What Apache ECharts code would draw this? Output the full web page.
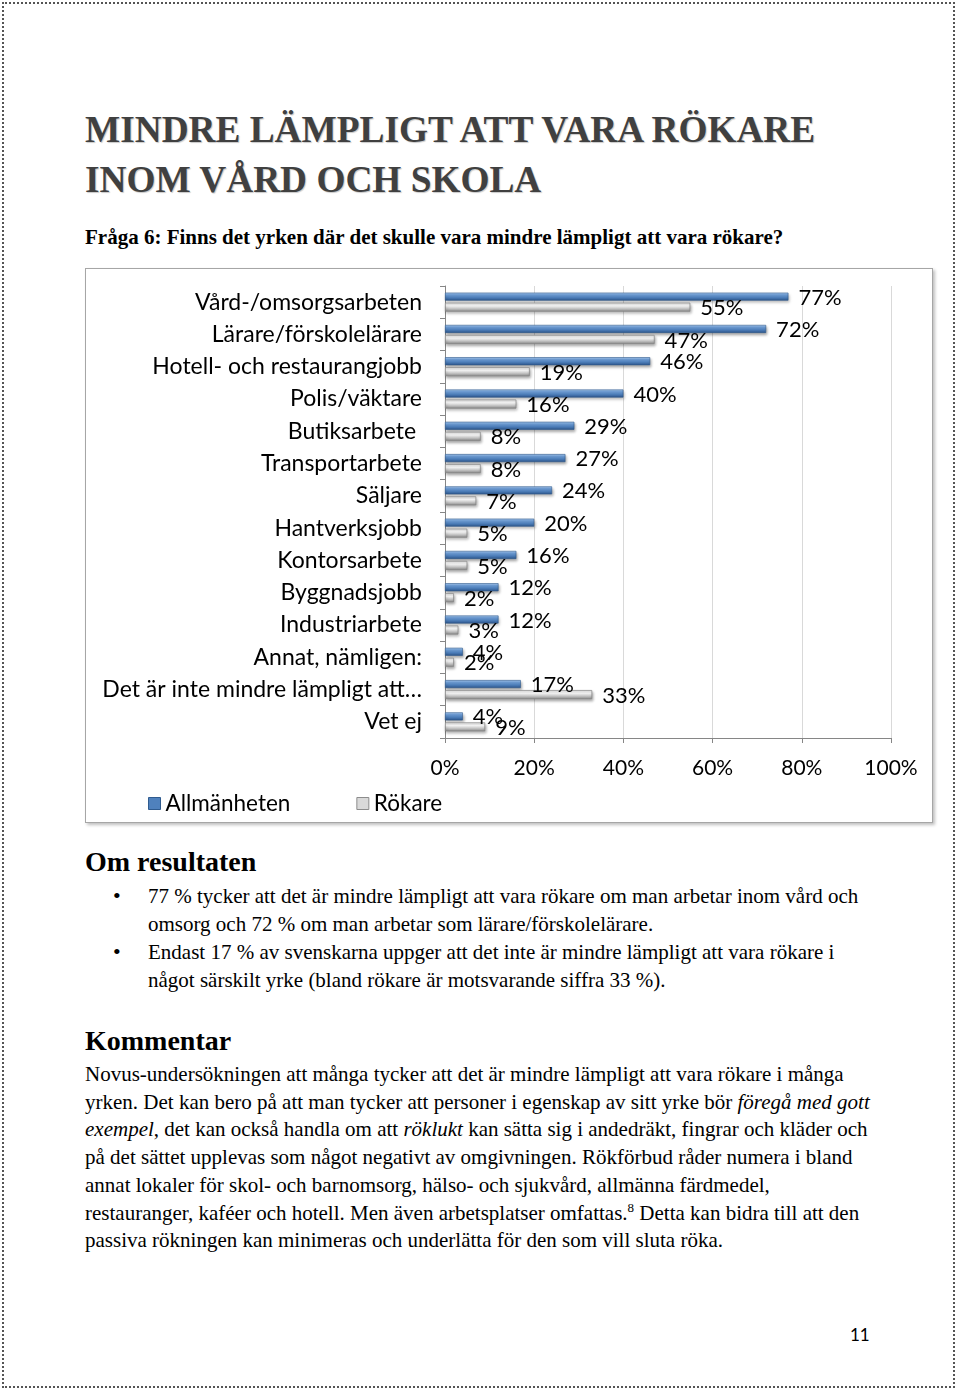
<!DOCTYPE html>
<html>
<head>
<meta charset="utf-8">
<script src="https://cdn.jsdelivr.net/npm/echarts@6/dist/echarts.min.js"></script>
<style>
  html, body { margin: 0; padding: 0; background: #fff; }
  body { width: 960px; height: 1393px; position: relative; overflow: hidden; font-family: "Liberation Serif", "Times New Roman", serif; color: #000; }
  .page { position: absolute; left: 2px; top: 2px; width: 953px; height: 1386px; border: 2px dotted #555; box-sizing: border-box; }
  .abs { position: absolute; white-space: nowrap; }
  .title { left: 85px; top: 105px; font-size: 37.3px; line-height: 50px; font-weight: bold; color: #404040; text-shadow: 1px 1px 1px #c8c8c8; }
  .sub { left: 85px; top: 224px; font-size: 21px; line-height: 26px; font-weight: bold; }
  .h2 { font-size: 28px; font-weight: bold; line-height: 32px; }
  .txt { font-size: 21px; line-height: 28px; }
  #chartbox { position: absolute; left: 85px; top: 268px; width: 848px; height: 555px; box-sizing: border-box; border: 1px solid #a6a6a6; box-shadow: 2px 2px 3px rgba(0,0,0,0.25); }
  #chart { width: 846px; height: 553px; }
  .pnum { left: 850px; top: 1324px; font-family: Lato, "Open Sans", sans-serif; font-size: 17px; }
</style>
</head>
<body>
<div class="page"></div>
<div class="abs title">MINDRE LÄMPLIGT ATT VARA RÖKARE<br>INOM VÅRD OCH SKOLA</div>
<div class="abs sub">Fråga 6: Finns det yrken där det skulle vara mindre lämpligt att vara rökare?</div>
<div id="chartbox"><div id="chart"></div></div>

<div class="abs h2" style="left:85px; top:846px;">Om resultaten</div>
<div class="abs txt" style="left:148px; top:882px;">77 % tycker att det är mindre lämpligt att vara rökare om man arbetar inom vård och<br>omsorg och 72 % om man arbetar som lärare/förskolelärare.<br>Endast 17 % av svenskarna uppger att det inte är mindre lämpligt att vara rökare i<br>något särskilt yrke (bland rökare är motsvarande siffra 33 %).</div>
<div class="abs txt" style="left:113px; top:882px; font-size:22px;">•</div>
<div class="abs txt" style="left:113px; top:938px; font-size:22px;">•</div>

<div class="abs h2" style="left:85px; top:1025px;">Kommentar</div>
<div class="abs txt" style="left:85px; top:1061px; line-height:27.7px;">Novus-undersökningen att många tycker att det är mindre lämpligt att vara rökare i många<br>yrken. Det kan bero på att man tycker att personer i egenskap av sitt yrke bör <i>föregå med gott</i><br><i>exempel</i>, det kan också handla om att <i>röklukt</i> kan sätta sig i andedräkt, fingrar och kläder och<br>på det sättet upplevas som något negativt av omgivningen. Rökförbud råder numera i bland<br>annat lokaler för skol- och barnomsorg, hälso- och sjukvård, allmänna färdmedel,<br>restauranger, kaféer och hotell. Men även arbetsplatser omfattas.<sup style="font-size:13px; line-height:0;">8</sup> Detta kan bidra till att den<br>passiva rökningen kan minimeras och underlätta för den som vill sluta röka.</div>

<div class="abs pnum">11</div>

<script>
const categories = ['Vård-/omsorgsarbeten','Lärare/förskolelärare','Hotell- och restaurangjobb','Polis/väktare','Butiksarbete ','Transportarbete','Säljare','Hantverksjobb','Kontorsarbete','Byggnadsjobb','Industriarbete','Annat, nämligen:','Det är inte mindre lämpligt att…','Vet ej'];
const allmanheten = [77,72,46,40,29,27,24,20,16,12,12,4,17,4];
const rokare = [55,47,19,16,8,8,7,5,5,2,3,2,33,9];
const xTicks = [0,20,40,60,80,100];

const chart = echarts.init(document.getElementById('chart'), null, {renderer: 'canvas'});
const blueGrad = new echarts.graphic.LinearGradient(0,0,0,1,[
  {offset:0, color:'#b3d0f0'},{offset:0.25, color:'#75a5de'},{offset:0.6, color:'#4f81bd'},{offset:1, color:'#2c5388'}]);
const grayGrad = new echarts.graphic.LinearGradient(0,0,0,1,[
  {offset:0, color:'#dcdcdc'},{offset:0.35, color:'#ffffff'},{offset:0.6, color:'#d0d0d0'},{offset:1, color:'#888888'}]);
const labelFont = {fontFamily: 'Lato', fontSize: 22, color: '#000'};
chart.setOption({
  animation: false,
  textStyle: {fontFamily: 'Lato'},
  grid: {left: 359, right: 41, top: 17, bottom: 84, containLabel: false},
  legend: {
    left: 57, top: 518, itemWidth: 12, itemHeight: 12, itemGap: 66, itemTextGap: 8,
    textStyle: {fontFamily: 'Lato', fontSize: 22.5, color: '#000'},
    data: [
      {name: 'Allmänheten', icon: 'rect', itemStyle: {color: '#4f81bd', borderColor: '#2f5b8f', borderWidth: 1}},
      {name: 'Rökare', icon: 'rect', itemStyle: {color: '#d9d9d9', borderColor: '#8c8c8c', borderWidth: 1}}
    ]
  },
  xAxis: {
    type: 'value', min: xTicks[0], max: xTicks[xTicks.length-1], interval: 20,
    axisLine: {show: true, lineStyle: {color: '#868686'}},
    axisTick: {show: true, length: 5, lineStyle: {color: '#868686'}},
    splitLine: {show: true, lineStyle: {color: '#d9d9d9'}},
    axisLabel: {formatter: '{value}%', fontFamily: 'Lato', fontSize: 21, color: '#000', margin: 20}
  },
  yAxis: {
    type: 'category', data: categories, inverse: true,
    axisLine: {show: true, lineStyle: {color: '#868686'}},
    axisTick: {show: true, length: 5, lineStyle: {color: '#868686'}},
    axisLabel: {fontFamily: 'Lato', fontSize: 23, color: '#000', margin: 23}
  },
  series: [
    {name: 'Allmänheten', type: 'bar', data: allmanheten, barWidth: 8, barGap: '25%',
     itemStyle: {color: blueGrad, borderColor: '#2f5b8f', borderWidth: 0.6, shadowBlur: 3, shadowColor: 'rgba(0,0,0,0.35)', shadowOffsetX: 1, shadowOffsetY: 2},
     label: Object.assign({show: true, position: 'right', distance: 10, formatter: '{c}%', offset: [0,1]}, labelFont)},
    {name: 'Rökare', type: 'bar', data: rokare, barWidth: 9, barGap: '25%',
     itemStyle: {color: grayGrad, borderColor: '#858585', borderWidth: 0.7, shadowBlur: 3, shadowColor: 'rgba(0,0,0,0.35)', shadowOffsetX: 1, shadowOffsetY: 2},
     label: Object.assign({show: true, position: 'right', distance: 10, formatter: '{c}%', offset: [0,1]}, labelFont)}
  ]
});
</script>
</body>
</html>
